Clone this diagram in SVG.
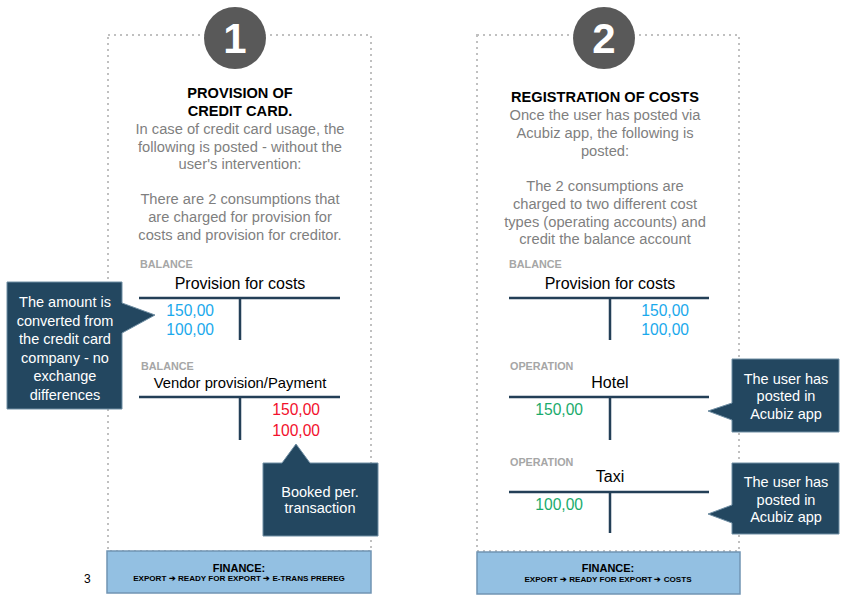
<svg xmlns="http://www.w3.org/2000/svg" width="850" height="600" viewBox="0 0 850 600">
<style>
text{font-family:"Liberation Sans",Arial,sans-serif}
.panel{fill:none;stroke:#c0c0c0;stroke-width:2;stroke-dasharray:2 4}
.num{fill:#595959}
.numt{fill:#fff;font-size:42px;font-weight:bold;text-anchor:middle}
.title{font-size:14.6px;font-weight:bold;fill:#000;text-anchor:middle}
.body{font-size:14.7px;fill:#7f7f7f;text-anchor:middle}
.lab{font-size:10.8px;font-weight:bold;fill:#a6a6a6}
.acct{font-size:16px;fill:#000;text-anchor:middle}
.tl{stroke:#233f57;stroke-width:2.5;fill:none}
.blue{font-size:15.6px;fill:#1aa9ec}
.red{font-size:15.6px;fill:#f2102c}
.green{font-size:15.6px;fill:#1aab6c}
.call{fill:#234760;stroke:#6f8ea3;stroke-width:1}
.ct{font-size:14.5px;fill:#fff;text-anchor:middle}
.fin{fill:#93c0e2;stroke:#7094b3;stroke-width:1.5}
.ft{font-size:11px;font-weight:bold;fill:#000;text-anchor:middle}
.fs{font-size:8.1px;font-weight:bold;fill:#000;text-anchor:middle}
</style>
<rect width="850" height="600" fill="#fff"/>
<g id="panel1">
<rect class="panel" x="108" y="35" width="263" height="516"/>
<circle class="num" cx="235" cy="38" r="31"/>
<text class="numt" x="235" y="53">1</text>
<text class="title" x="240" y="98">PROVISION OF</text>
<text class="title" x="240" y="116">CREDIT CARD.</text>
<text class="body" x="240" y="134">In case of credit card usage, the</text>
<text class="body" x="240" y="152">following is posted - without the</text>
<text class="body" x="240" y="169">user's intervention:</text>
<text class="body" x="240" y="204">There are 2 consumptions that</text>
<text class="body" x="240" y="222">are charged for provision for</text>
<text class="body" x="240" y="240">costs and provision for creditor.</text>
</g>
<g id="acct1">
<text class="lab" x="140" y="268">BALANCE</text>
<text class="acct" x="240" y="289">Provision for costs</text>
<path class="tl" d="M139 298H340M240 298V340"/>
<text class="blue" x="214" y="316" text-anchor="end">150,00</text>
<text class="blue" x="214" y="335" text-anchor="end">100,00</text>
</g>
<g id="acct2">
<text class="lab" x="141" y="370">BALANCE</text>
<text class="acct" x="240" y="388" style="font-size:14.8px">Vendor provision/Payment</text>
<path class="tl" d="M139 397H340M240 397V440"/>
<text class="red" x="320" y="415" text-anchor="end">150,00</text>
<text class="red" x="320" y="436" text-anchor="end">100,00</text>
</g>
<g id="callout1">
<path class="call" d="M7 282H122V303L155 315L122 333V409H7Z"/>
<text class="ct" x="65" y="307">The amount is</text>
<text class="ct" x="65" y="326">converted from</text>
<text class="ct" x="65" y="344">the credit card</text>
<text class="ct" x="65" y="363">company - no</text>
<text class="ct" x="65" y="381">exchange</text>
<text class="ct" x="65" y="400">differences</text>
</g>
<g id="callout2">
<path class="call" d="M263 463H282L296 444L310 463H378V536H263Z"/>
<text class="ct" x="320" y="497">Booked per.</text>
<text class="ct" x="320" y="513">transaction</text>
</g>
<g id="finance1">
<rect class="fin" x="107" y="551" width="264" height="42"/>
<text class="ft" x="239" y="572">FINANCE:</text>
<text class="fs" x="239" y="581">EXPORT ➔ READY FOR EXPORT ➔ E-TRANS PREREG</text>
</g>
<text x="84" y="583" font-size="12" fill="#000">3</text>
<g id="panel2">
<rect class="panel" x="477" y="35" width="262" height="516"/>
<circle class="num" cx="604" cy="38" r="31"/>
<text class="numt" x="604" y="53">2</text>
<text class="title" x="605" y="102">REGISTRATION OF COSTS</text>
<text class="body" x="605" y="120">Once the user has posted via</text>
<text class="body" x="605" y="138">Acubiz app, the following is</text>
<text class="body" x="605" y="156">posted:</text>
<text class="body" x="605" y="191">The 2 consumptions are</text>
<text class="body" x="605" y="209">charged to two different cost</text>
<text class="body" x="605" y="227">types (operating accounts) and</text>
<text class="body" x="605" y="244">credit the balance account</text>
</g>
<g id="acct3">
<text class="lab" x="509" y="268">BALANCE</text>
<text class="acct" x="610" y="289">Provision for costs</text>
<path class="tl" d="M509 298H709M610 298V340"/>
<text class="blue" x="689" y="316" text-anchor="end">150,00</text>
<text class="blue" x="689" y="335" text-anchor="end">100,00</text>
</g>
<g id="acct4">
<text class="lab" x="510" y="370">OPERATION</text>
<text class="acct" x="610" y="388">Hotel</text>
<path class="tl" d="M509 397H709M610 397V440"/>
<text class="green" x="583" y="415" text-anchor="end">150,00</text>
</g>
<g id="acct5">
<text class="lab" x="510" y="466">OPERATION</text>
<text class="acct" x="610" y="482">Taxi</text>
<path class="tl" d="M509 492H709M610 492V533"/>
<text class="green" x="583" y="510" text-anchor="end">100,00</text>
</g>
<g id="callout3">
<path class="call" d="M732 359H839V432H732V420L708 411L732 403Z"/>
<text class="ct" x="786" y="384">The user has</text>
<text class="ct" x="786" y="401">posted in</text>
<text class="ct" x="786" y="419">Acubiz app</text>
</g>
<g id="callout4">
<path class="call" d="M732 463H839V534H732V523L708 514L732 505Z"/>
<text class="ct" x="786" y="487">The user has</text>
<text class="ct" x="786" y="505">posted in</text>
<text class="ct" x="786" y="522">Acubiz app</text>
</g>
<g id="finance2">
<rect class="fin" x="477" y="552" width="263" height="42"/>
<text class="ft" x="608" y="572">FINANCE:</text>
<text class="fs" x="608" y="582">EXPORT ➔ READY FOR EXPORT ➔ COSTS</text>
</g>
<g id="connectors"></g>
</svg>
